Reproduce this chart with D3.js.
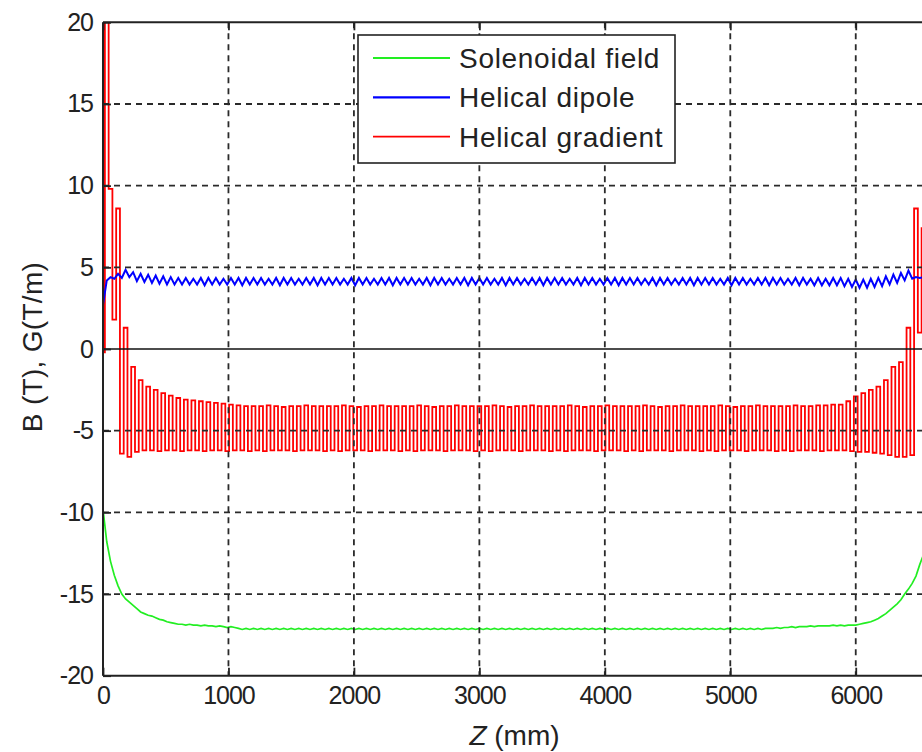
<!DOCTYPE html>
<html>
<head>
<meta charset="utf-8">
<script src="https://cdn.jsdelivr.net/npm/d3@7"></script>
<style>
  html, body { margin: 0; padding: 0; background: #fff; }
  svg { display: block; }
  text { font-family: "Liberation Sans", Arial, sans-serif; fill: #222; }
</style>
</head>
<body>
<svg id="chart" width="922" height="752"></svg>
<script>
// Field profiles along the magnet, sampled every 30 mm (z in mm).
const zMm = d3.range(0, 6600, 30);

// Helical gradient G (T/m)
const helicalGradient = [
  -0.2, 24, 9.8, 1.8, 8.6, -6.4, 1.3, -6.6, -1.1, -6.3,
  -1.9, -6.2, -2.3, -6.2, -2.5, -6.25, -2.7, -6.2, -2.85, -6.2,
  -3.0, -6.25, -3.1, -6.2, -3.15, -6.2, -3.2, -6.25, -3.25, -6.2,
  -3.3, -6.2, -3.35, -6.25, -3.4, -6.2, -3.45, -6.2, -3.5, -6.25,
  -3.5, -6.2, -3.5, -6.25, -3.45, -6.2, -3.5, -6.2, -3.55, -6.2, -3.5, -6.25, -3.5, -6.2, -3.45, -6.2, -3.5, -6.2, -3.5, -6.25,
  -3.5, -6.2, -3.5, -6.25, -3.45, -6.2, -3.5, -6.2, -3.55, -6.2, -3.5, -6.25, -3.5, -6.2, -3.45, -6.2, -3.5, -6.2, -3.5, -6.25,
  -3.5, -6.2, -3.5, -6.25, -3.45, -6.2, -3.5, -6.2, -3.55, -6.2, -3.5, -6.25, -3.5, -6.2, -3.45, -6.2, -3.5, -6.2, -3.5, -6.25,
  -3.5, -6.2, -3.5, -6.25, -3.45, -6.2, -3.5, -6.2, -3.55, -6.2, -3.5, -6.25, -3.5, -6.2, -3.45, -6.2, -3.5, -6.2, -3.5, -6.25,
  -3.5, -6.2, -3.5, -6.25, -3.45, -6.2, -3.5, -6.2, -3.55, -6.2, -3.5, -6.25, -3.5, -6.2, -3.45, -6.2, -3.5, -6.2, -3.5, -6.25,
  -3.5, -6.2, -3.5, -6.25, -3.45, -6.2, -3.5, -6.2, -3.55, -6.2, -3.5, -6.25, -3.5, -6.2, -3.45, -6.2, -3.5, -6.2, -3.5, -6.25,
  -3.5, -6.2, -3.5, -6.25, -3.45, -6.2, -3.5, -6.2, -3.55, -6.2, -3.5, -6.25, -3.5, -6.2, -3.45, -6.2, -3.5, -6.2, -3.5, -6.25,
  -3.5, -6.2, -3.5, -6.25, -3.45, -6.2, -3.5, -6.2, -3.5, -6.2, -3.45, -6.25, -3.45, -6.2, -3.4, -6.2,
  -3.4, -6.2, -3.2, -6.25, -2.9, -6.3, -2.7, -6.3, -2.5, -6.35, -2.3, -6.4,
  -1.9, -6.5, -1.1, -6.6, -0.8, -6.6, 1.3, -6.5, 8.6, 1.0, 7.4, 4.0
];

// Helical dipole B (T)
const helicalDipole = [
  2.7, 4.2, 4.4, 4.3, 4.6, 4.35, 4.85, 4.4, 4.7, 4.15,
  4.6, 4.1, 4.55, 4.05, 4.5, 4.0, 4.45, 3.95, 4.4, 3.95,
  4.35, 3.95, 4.35, 3.95, 4.3, 3.95, 4.35, 3.9, 4.35, 3.95, 4.35, 3.95, 4.3, 3.95, 4.35, 3.95, 4.35, 3.9, 4.35, 3.95,
  4.35, 3.95, 4.35, 3.95, 4.3, 3.95, 4.35, 3.9, 4.35, 3.95, 4.35, 3.95, 4.3, 3.95, 4.35, 3.95, 4.35, 3.9, 4.35, 3.95,
  4.35, 3.95, 4.35, 3.95, 4.3, 3.95, 4.35, 3.9, 4.35, 3.95, 4.35, 3.95, 4.3, 3.95, 4.35, 3.95, 4.35, 3.9, 4.35, 3.95,
  4.35, 3.95, 4.35, 3.95, 4.3, 3.95, 4.35, 3.9, 4.35, 3.95, 4.35, 3.95, 4.3, 3.95, 4.35, 3.95, 4.35, 3.9, 4.35, 3.95,
  4.35, 3.95, 4.35, 3.95, 4.3, 3.95, 4.35, 3.9, 4.35, 3.95, 4.35, 3.95, 4.3, 3.95, 4.35, 3.95, 4.35, 3.9, 4.35, 3.95,
  4.35, 3.95, 4.35, 3.95, 4.3, 3.95, 4.35, 3.9, 4.35, 3.95, 4.35, 3.95, 4.3, 3.95, 4.35, 3.95, 4.35, 3.9, 4.35, 3.95,
  4.35, 3.95, 4.35, 3.95, 4.3, 3.95, 4.35, 3.9, 4.35, 3.95, 4.35, 3.95, 4.3, 3.95, 4.35, 3.95, 4.35, 3.9, 4.35, 3.95,
  4.35, 3.95, 4.35, 3.95, 4.3, 3.95, 4.35, 3.9, 4.35, 3.95, 4.35, 3.95, 4.3, 3.95, 4.35, 3.95, 4.35, 3.9, 4.35, 3.95,
  4.35, 3.95, 4.3, 3.95, 4.35, 3.9, 4.35, 3.95, 4.3, 3.9, 4.35, 3.9, 4.3, 3.9, 4.35, 3.9,
  4.35, 3.85, 4.3, 3.8, 4.25, 3.75, 4.25, 3.75, 4.3, 3.8, 4.35, 3.85,
  4.45, 3.95, 4.55, 4.05, 4.65, 4.2, 4.8, 4.3, 4.4, 4.35, 4.4, 4.35
];

// Solenoidal field B (T)
const solenoidalField = [
  -9.8, -11.8, -13.0, -13.85, -14.5, -15.0, -15.3, -15.5, -15.7, -15.9,
  -16.1, -16.2, -16.3, -16.35, -16.45, -16.55, -16.6, -16.7, -16.75, -16.8,
  -16.85, -16.85, -16.9, -16.85, -16.9, -16.9, -16.95, -16.9, -16.95, -16.95, -17.0, -16.95, -17.0, -17.05, -17.0, -17.05,
  -17.1, -17.17, -17.1, -17.17, -17.1, -17.17, -17.1, -17.17, -17.1, -17.17, -17.1, -17.17, -17.1, -17.17, -17.1, -17.17, -17.1, -17.17, -17.1, -17.17,
  -17.1, -17.17, -17.1, -17.17, -17.1, -17.17, -17.1, -17.17, -17.1, -17.17, -17.1, -17.17, -17.1, -17.17, -17.1, -17.17, -17.1, -17.17, -17.1, -17.17,
  -17.1, -17.17, -17.1, -17.17, -17.1, -17.17, -17.1, -17.17, -17.1, -17.17, -17.1, -17.17, -17.1, -17.17, -17.1, -17.17, -17.1, -17.17, -17.1, -17.17,
  -17.1, -17.17, -17.1, -17.17, -17.1, -17.17, -17.1, -17.17, -17.1, -17.17, -17.1, -17.17, -17.1, -17.17, -17.1, -17.17, -17.1, -17.17, -17.1, -17.17,
  -17.1, -17.17, -17.1, -17.17, -17.1, -17.17, -17.1, -17.17, -17.1, -17.17, -17.1, -17.17, -17.1, -17.17, -17.1, -17.17, -17.1, -17.17, -17.1, -17.17,
  -17.1, -17.17, -17.1, -17.17, -17.1, -17.17, -17.1, -17.17, -17.1, -17.17, -17.1, -17.17, -17.1, -17.17, -17.1, -17.17, -17.1, -17.17, -17.1, -17.17,
  -17.1, -17.17, -17.1, -17.17, -17.1, -17.17, -17.1, -17.17, -17.1, -17.17, -17.1, -17.17, -17.1, -17.17, -17.1, -17.17, -17.1, -17.17, -17.1, -17.17,
  -17.1, -17.1, -17.1, -17.05, -17.1, -17.05, -17.05, -17.0, -17.05, -17.0,
  -17.0, -17.0, -16.95, -17.0, -16.95, -16.95, -16.95, -16.95, -16.9, -16.95,
  -16.9, -16.95, -16.9, -16.9, -16.9, -16.85, -16.8, -16.75, -16.7, -16.6,
  -16.5, -16.35, -16.2, -16.0, -15.8, -15.6, -15.35, -15.0, -14.7, -14.35,
  -13.9, -13.2, -12.6, -12.0
];

const seriesNames = ["Solenoidal field", "Helical dipole", "Helical gradient"];
const seriesColors = ["#22ee22", "#0000ff", "#ff0000"];
const seriesWidths = [1.7, 2.0, 1.8];
const seriesCurves = [d3.curveLinear, d3.curveLinear, d3.curveStep];
const seriesValues = [solenoidalField, helicalDipole, helicalGradient];

const xTicks = [0, 1000, 2000, 3000, 4000, 5000, 6000];
const yTicks = [-20, -15, -10, -5, 0, 5, 10, 15, 20];
const xDomain = [0, 6560];
const yDomain = [-20, 20];

const svg = d3.select("#chart");
const W = 922, H = 752;
const plot = { left: 103, right: 926, top: 22.3, bottom: 675.7 };

svg.append("rect").attr("width", W).attr("height", H).attr("fill", "#fff");

const x = d3.scaleLinear().domain(xDomain).range([plot.left, plot.right]);
const y = d3.scaleLinear().domain(yDomain).range([plot.bottom, plot.top]);

svg.append("defs").append("clipPath").attr("id", "plotClip")
  .append("rect")
  .attr("x", plot.left).attr("y", plot.top)
  .attr("width", plot.right - plot.left).attr("height", plot.bottom - plot.top);

// Data curves: gradient first, then dipole, then solenoid on top
const curves = svg.append("g").attr("clip-path", "url(#plotClip)");
[2, 1, 0].forEach(k => {
  const line = d3.line()
    .x((d, i) => x(zMm[i]))
    .y(d => y(d))
    .curve(seriesCurves[k]);
  curves.append("path")
    .datum(seriesValues[k].slice(0, zMm.length))
    .attr("fill", "none")
    .attr("stroke", seriesColors[k])
    .attr("stroke-width", seriesWidths[k])
    .attr("stroke-linejoin", "miter")
    .attr("d", line);
});

// Dashed grid
const grid = svg.append("g").attr("stroke", "#2a2a2a").attr("stroke-width", 1.8)
  .attr("stroke-dasharray", "6,5");
grid.selectAll("line.h")
  .data(yTicks.filter(v => v !== 0 && v !== yDomain[0] && v !== yDomain[1]))
  .join("line")
  .attr("class", "h")
  .attr("x1", plot.left).attr("x2", plot.right)
  .attr("y1", d => y(d)).attr("y2", d => y(d));
grid.selectAll("line.v")
  .data(xTicks.filter(v => v !== xDomain[0]))
  .join("line")
  .attr("class", "v")
  .attr("y1", plot.top).attr("y2", plot.bottom)
  .attr("x1", d => x(d)).attr("x2", d => x(d));

// Zero reference line
svg.append("line")
  .attr("x1", plot.left).attr("x2", plot.right)
  .attr("y1", y(0)).attr("y2", y(0))
  .attr("stroke", "#111").attr("stroke-width", 1.6);

// Axes
const tickFont = 25;
const plainNumber = d => String(d);
const xAxis = d3.axisBottom(x).tickValues(xTicks).tickFormat(plainNumber)
  .tickSize(-8).tickPadding(11);
const yAxis = d3.axisLeft(y).tickValues(yTicks).tickFormat(plainNumber)
  .tickSize(-8).tickPadding(10);
const xTop = d3.axisTop(x).tickValues(xTicks).tickFormat("").tickSize(-8);

function styleAxis(g) {
  g.select(".domain").remove();
  g.selectAll(".tick line").attr("stroke", "#222").attr("stroke-width", 1.8);
  g.selectAll(".tick text")
    .attr("font-size", tickFont)
    .attr("letter-spacing", "-1px")
    .attr("fill", "#222")
    .style("font-family", '"Liberation Sans", Arial, sans-serif');
}

svg.append("g").attr("transform", `translate(0,${plot.bottom})`).call(xAxis).call(styleAxis);
svg.append("g").attr("transform", `translate(${plot.left},0)`).call(yAxis).call(styleAxis);
svg.append("g").attr("transform", `translate(0,${plot.top})`).call(xTop).call(styleAxis);

// Axes frame (right edge lies beyond the visible area)
const frame = svg.append("g").attr("stroke", "#222").attr("stroke-width", 2).attr("fill", "none");
frame.append("line").attr("x1", plot.left).attr("x2", plot.right).attr("y1", plot.top).attr("y2", plot.top);
frame.append("line").attr("x1", plot.left).attr("x2", plot.right).attr("y1", plot.bottom).attr("y2", plot.bottom);
frame.append("line").attr("x1", plot.left).attr("x2", plot.left).attr("y1", plot.top).attr("y2", plot.bottom);
frame.append("line").attr("x1", plot.right).attr("x2", plot.right).attr("y1", plot.top).attr("y2", plot.bottom);

// Axis titles
const xTitle = svg.append("text")
  .attr("x", (plot.left + plot.right) / 2).attr("y", 745)
  .attr("text-anchor", "middle").attr("font-size", 28);
xTitle.append("tspan").attr("font-style", "italic").text("Z");
xTitle.append("tspan").text(" (mm)");

svg.append("text")
  .attr("transform", "translate(42,347) rotate(-90)")
  .attr("text-anchor", "middle").attr("font-size", 28)
  .attr("letter-spacing", "0.3px")
  .text("B (T), G(T/m)");

// Legend
const legend = svg.append("g");
legend.append("rect")
  .attr("x", 358).attr("y", 35).attr("width", 317).attr("height", 128)
  .attr("fill", "#fff").attr("stroke", "#222").attr("stroke-width", 1.6);
const rows = legend.selectAll("g.row").data(seriesNames).join("g")
  .attr("class", "row")
  .attr("transform", (d, i) => `translate(0,${58 + i * 39.3})`);
rows.append("line")
  .attr("x1", 373).attr("x2", 450).attr("y1", 0).attr("y2", 0)
  .attr("stroke", (d, i) => seriesColors[i])
  .attr("stroke-width", (d, i) => i === 2 ? 1.6 : 2.2);
rows.append("text")
  .attr("x", 459).attr("y", 10)
  .attr("font-size", 28).attr("letter-spacing", "0.7px")
  .text(d => d);
</script>
</body>
</html>
